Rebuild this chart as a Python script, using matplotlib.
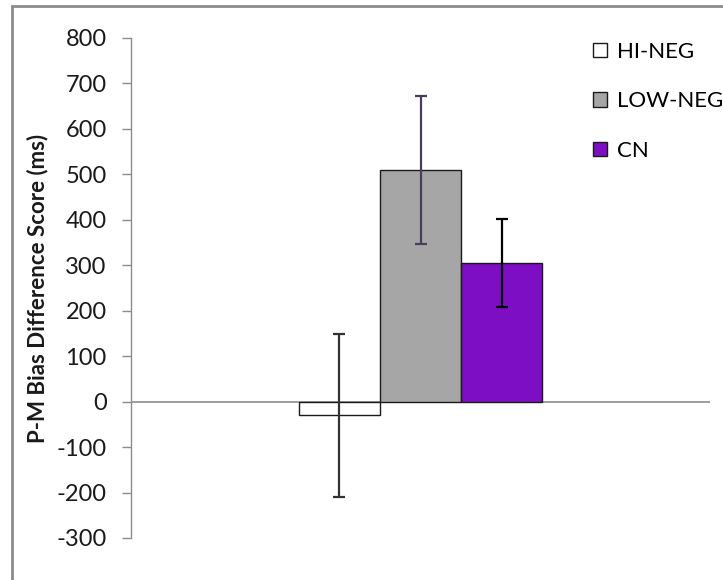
import matplotlib
matplotlib.use("Agg")
import matplotlib.pyplot as plt
from matplotlib.patches import Rectangle, Patch

plt.rcParams['font.family'] = ['Lato', 'DejaVu Sans']
plt.rcParams['axes.unicode_minus'] = False

# data
groups = ["HI-NEG", "LOW-NEG", "CN"]
means = [-30, 510, 305]
errors = [179, 163, 97]
fill_colors = ["#ffffff", "#a6a6a6", "#7d0ec3"]
err_colors = ["#333333", "#4a3d5c", "#000000"]
yticks = list(range(-300, 801, 100))

W, H = 723, 580
fig = plt.figure(figsize=(W / 100, H / 100), dpi=100)
ax = fig.add_axes([131 / W, 1 - 538 / H, (710 - 131) / W, (538 - 38) / H])

width = 0.14
offsets = [-width, 0.0, width]
for off, m, e, fc, ec in zip(offsets, means, errors, fill_colors, err_colors):
    ax.bar(off, m, width=width, color=fc, edgecolor="#1a1a1a", linewidth=1.0, zorder=2)
    ax.errorbar(off, m, yerr=e, fmt="none", ecolor=ec, elinewidth=1.6,
                capsize=4.5, capthick=1.6, zorder=3)

ax.axhline(0, color="#8c8c8c", linewidth=1.2, zorder=1)
ax.set_xlim(-0.5, 0.5)
ax.set_ylim(-300, 800)
ax.set_yticks(yticks)
ax.set_xticks([])
for side in ("top", "right", "bottom"):
    ax.spines[side].set_visible(False)
ax.spines["left"].set_color("#8c8c8c")
ax.spines["left"].set_linewidth(1.0)
ax.tick_params(axis="y", direction="out", length=6.5, width=1.0, color="#8c8c8c",
               labelsize=17, labelcolor="#1a1a1a", pad=11)
ax.set_ylabel("P-M Bias Difference Score (ms)", fontsize=16, fontweight="bold",
              color="#1a1a1a", labelpad=6)

handles = [Patch(facecolor=fc, edgecolor="#1a1a1a", linewidth=1.0) for fc in fill_colors]
ax.legend(handles, groups, loc="upper left", bbox_to_anchor=(593 / W, 1 - 42 / H),
          bbox_transform=fig.transFigure, frameon=False, fontsize=16,
          handlelength=0.63, handleheight=0.63, handletextpad=0.45, labelspacing=1.32,
          borderaxespad=0, borderpad=0)

# outer chart border (cropped on the right and bottom)
fig.patches.append(Rectangle((12 / W, -0.05), 1.1, 1 - 6 / H + 0.05,
                             transform=fig.transFigure, fill=False,
                             edgecolor="#8c8c8c", linewidth=2.0))

fig.savefig("out.png", dpi=100)
